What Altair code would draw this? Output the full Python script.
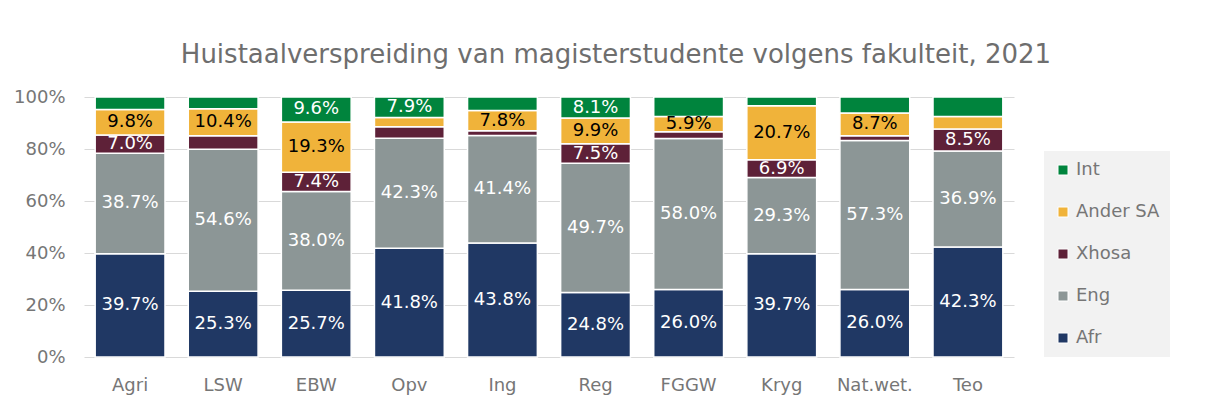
import altair as alt
import pandas as pd

cats = ["Agri", "LSW", "EBW", "Opv", "Ing", "Reg", "FGGW", "Kryg", "Nat.wet.", "Teo"]
afr = [39.7, 25.3, 25.7, 41.8, 43.8, 24.8, 26.0, 39.7, 26.0, 42.3]
eng = [38.7, 54.6, 38.0, 42.3, 41.4, 49.7, 58.0, 29.3, 57.3, 36.9]
xhosa = [7.0, 5.2, 7.4, 4.5, 1.8, 7.5, 2.6, 6.9, 1.8, 8.5]
ander = [9.8, 10.4, 19.3, 3.5, 7.8, 9.9, 5.9, 20.7, 8.7, 4.8]
intl = [4.8, 4.5, 9.6, 7.9, 5.2, 8.1, 7.5, 3.4, 6.2, 7.5]

# which segments carry a data label
show_afr = [1, 1, 1, 1, 1, 1, 1, 1, 1, 1]
show_eng = [1, 1, 1, 1, 1, 1, 1, 1, 1, 1]
show_xhosa = [1, 0, 1, 0, 0, 1, 0, 1, 0, 1]
show_ander = [1, 1, 1, 0, 1, 1, 1, 1, 1, 0]
show_int = [0, 0, 1, 1, 0, 1, 0, 0, 0, 0]

series_names = ["Afr", "Eng", "Xhosa", "Ander SA", "Int"]
series_vals = [afr, eng, xhosa, ander, intl]
series_show = [show_afr, show_eng, show_xhosa, show_ander, show_int]
label_colors = ["#FFFFFF", "#FFFFFF", "#FFFFFF", "#000000", "#FFFFFF"]

rows = []
for i, c in enumerate(cats):
    base = 0.0
    for s, name in enumerate(series_names):
        v = series_vals[s][i]
        rows.append(dict(
            cat=c, series=name, order=s, value=v,
            lo=base, hi=base + v, mid=base + v / 2,
            label=f"{v:.1f}%" if series_show[s][i] else "",
            tcolor=label_colors[s],
        ))
        base += v
df = pd.DataFrame(rows)

FONT = "DejaVu Sans"
GRAY = "#767676"

legend_order = ["Int", "Ander SA", "Xhosa", "Eng", "Afr"]
legend_colors = ["#00843D", "#F0B33A", "#5E2138", "#8C9696", "#203864"]

x_enc = alt.X("cat:N", sort=cats, title=None,
              scale=alt.Scale(paddingInner=0.25, paddingOuter=0.12),
              axis=alt.Axis(labelAngle=0, labelFontSize=18, labelColor=GRAY,
                            labelFont=FONT, ticks=False, domain=False, labelPadding=19))

bars = alt.Chart(df).mark_bar(stroke="white", strokeWidth=1.5).encode(
    x=x_enc,
    y=alt.Y("lo:Q", title=None,
            scale=alt.Scale(domain=[0, 100], nice=False),
            axis=alt.Axis(values=[0, 20, 40, 60, 80, 100], labelExpr="datum.value + '%'",
                          labelFontSize=18, labelColor=GRAY, labelFont=FONT,
                          ticks=False, domain=False, gridColor="#D9D9D9",
                          labelPadding=19)),
    y2="hi:Q",
    color=alt.Color("series:N",
                    scale=alt.Scale(domain=legend_order, range=legend_colors),
                    legend=alt.Legend(title=None, orient="none", legendX=960, legendY=54,
                                      fillColor="#F2F2F2", padding=10,
                                      symbolType="square", symbolSize=100,
                                      symbolStrokeColor="white", symbolStrokeWidth=1,
                                      labelFontSize=18, labelColor=GRAY, labelFont=FONT,
                                      rowPadding=24, labelOffset=4)),
)

texts = alt.Chart(df).mark_text(fontSize=18, font=FONT).encode(
    x=alt.X("cat:N", sort=cats),
    y=alt.Y("mid:Q"),
    text="label:N",
    color=alt.Color("tcolor:N", scale=None),
)

chart = alt.layer(bars, texts).properties(
    width=930, height=260,
    padding={"left": 5, "top": 34, "right": 5, "bottom": 5},
    title=alt.Title("Huistaalverspreiding van magisterstudente volgens fakulteit, 2021",
                    fontSize=26, color="#6E6E6E", font=FONT, fontWeight="normal",
                    anchor="middle", dx=67, offset=20),
).configure_view(stroke=None)

chart.save("out.html", embed_options={"renderer": "svg", "actions": False})
